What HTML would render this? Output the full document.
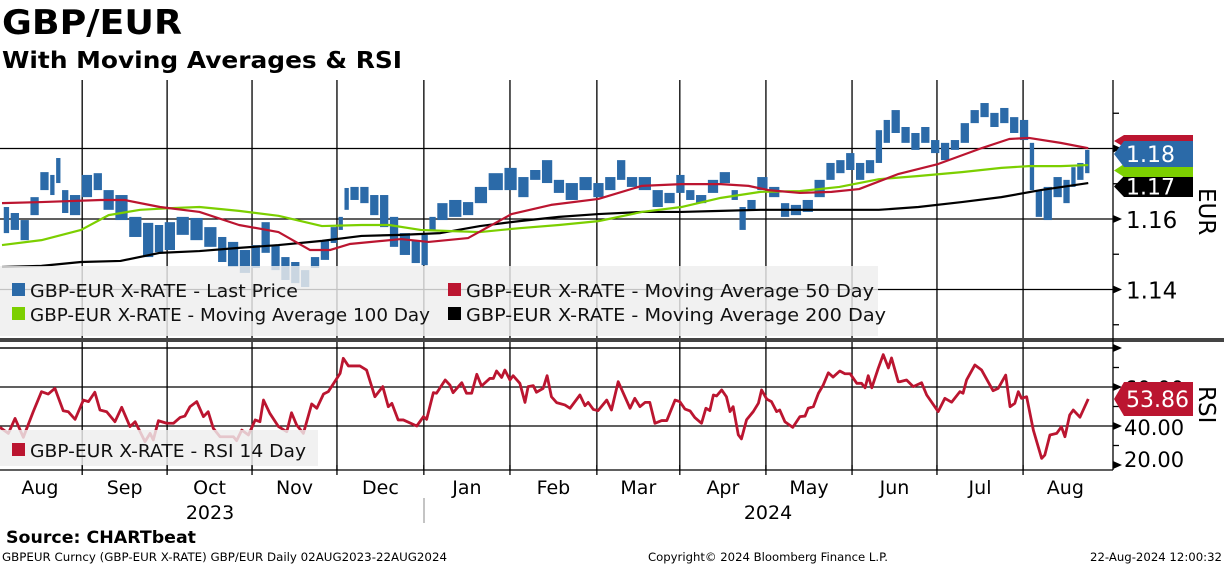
<!DOCTYPE html>
<html><head><meta charset="utf-8">
<style>
html,body{margin:0;padding:0;background:#fff;}
svg{display:block;font-family:"DejaVu Sans","Liberation Sans",sans-serif;}
</style></head>
<body>
<svg id="chart" width="1224" height="566" viewBox="0 0 1224 566">
  <text x="2" y="34" font-size="34" font-weight="bold" textLength="180" lengthAdjust="spacingAndGlyphs">GBP/EUR</text>
  <text x="2" y="68" font-size="23" font-weight="bold" textLength="400" lengthAdjust="spacingAndGlyphs">With Moving Averages &amp; RSI</text>
  <g id="grid"></g>
  <g id="marks"></g>
  <g id="legend"></g>
  <g id="axes"></g>
  <text x="6" y="543" font-size="17" font-weight="bold" textLength="190" lengthAdjust="spacingAndGlyphs">Source: CHARTbeat</text>
  <text x="2" y="561" font-size="11.5" textLength="445" lengthAdjust="spacingAndGlyphs">GBPEUR Curncy (GBP-EUR X-RATE) GBP/EUR  Daily 02AUG2023-22AUG2024</text>
  <text x="648" y="561" font-size="11.5" textLength="240" lengthAdjust="spacingAndGlyphs">Copyright© 2024 Bloomberg Finance L.P.</text>
  <text x="1090" y="561" font-size="11.5" textLength="132" lengthAdjust="spacingAndGlyphs">22-Aug-2024 12:00:32</text>
</svg>
<script>
// ---- data (trading-day index from 02-Aug-2023) ----
const priceDay = [1,3,6,8,11,13,14,16,18,22,24,27,30,34,37,40,42,46,49,53,56,58,62,64,67,69,72,74,77,79,82,84,86,87,89,92,94,97,99,102,105,107,109,111,115,118,121,125,129,132,135,138,141,144,148,151,154,157,159,163,166,169,172,174,177,180,183,186,187,190,192,196,198,201,204,207,210,212,215,217,220,222,224,226,229,231,234,236,239,241,244,246,249,251,254,256,259,261,262,265,267,270,271,273,275];
const priceHigh = [1.1634,1.1617,1.1597,1.1662,1.1733,1.1725,1.1773,1.1682,1.1668,1.1725,1.1730,1.1682,1.1668,1.1606,1.1589,1.1583,1.1591,1.1606,1.1603,1.1577,1.1549,1.1535,1.1512,1.1526,1.1591,1.1526,1.1492,1.1478,1.1455,1.1492,1.1540,1.1577,1.1606,1.1688,1.1691,1.1691,1.1668,1.1668,1.1606,1.1560,1.1540,1.1555,1.1606,1.1645,1.1654,1.1648,1.1691,1.1730,1.1745,1.1719,1.1739,1.1767,1.1711,1.1702,1.1719,1.1702,1.1719,1.1767,1.1719,1.1719,1.1682,1.1674,1.1725,1.1682,1.1668,1.1711,1.1733,1.1682,1.1634,1.1654,1.1719,1.1691,1.1645,1.1640,1.1654,1.1711,1.1759,1.1767,1.1787,1.1759,1.1767,1.1852,1.1881,1.1909,1.1861,1.1844,1.1861,1.1824,1.1816,1.1824,1.1872,1.1909,1.1929,1.1901,1.1915,1.1889,1.1881,1.1816,1.1682,1.1691,1.1719,1.1711,1.1747,1.1759,1.1796];
const priceLow = [1.1560,1.1569,1.1540,1.1611,1.1682,1.1668,1.1702,1.1617,1.1611,1.1662,1.1682,1.1626,1.1597,1.1549,1.1492,1.1506,1.1512,1.1555,1.1540,1.1521,1.1478,1.1464,1.1447,1.1461,1.1504,1.1455,1.1427,1.1418,1.1407,1.1461,1.1484,1.1532,1.1569,1.1626,1.1654,1.1645,1.1611,1.1577,1.1521,1.1498,1.1475,1.1469,1.1569,1.1597,1.1606,1.1611,1.1645,1.1682,1.1682,1.1662,1.1711,1.1702,1.1674,1.1654,1.1682,1.1662,1.1682,1.1711,1.1691,1.1682,1.1634,1.1645,1.1674,1.1654,1.1645,1.1674,1.1702,1.1654,1.1569,1.1626,1.1682,1.1662,1.1606,1.1611,1.1620,1.1662,1.1711,1.1730,1.1739,1.1711,1.1730,1.1759,1.1816,1.1844,1.1816,1.1796,1.1816,1.1787,1.1767,1.1796,1.1816,1.1872,1.1889,1.1861,1.1872,1.1844,1.1824,1.1682,1.1606,1.1597,1.1662,1.1645,1.1691,1.1711,1.1730];

const ma50Day = [0,10,25,31,40,50,60,70,78,83,88,101,108,118,129,139,151,162,172,182,189,194,202,210,217,227,237,248,255,260,268,275];
const ma50 = [1.1645,1.1648,1.1654,1.1654,1.1634,1.1620,1.1583,1.1563,1.1512,1.1512,1.1529,1.1543,1.1535,1.1546,1.1614,1.1640,1.1657,1.1694,1.1699,1.1699,1.1694,1.1682,1.1674,1.1677,1.1685,1.1728,1.1756,1.1801,1.1827,1.1830,1.1816,1.1801];

const ma100Day = [0,10,20,27,35,43,50,60,70,81,91,98,106,113,121,131,141,151,162,172,182,192,202,212,222,232,243,253,260,268,275];
const ma100 = [1.1526,1.1540,1.1569,1.1611,1.1626,1.1631,1.1634,1.1623,1.1609,1.1580,1.1583,1.1583,1.1569,1.1566,1.1563,1.1574,1.1583,1.1594,1.1620,1.1634,1.1660,1.1677,1.1679,1.1691,1.1713,1.1722,1.1733,1.1745,1.1750,1.1750,1.1753];

const ma200Day = [0,10,20,30,40,50,60,70,81,91,101,111,121,131,141,151,162,172,182,192,202,212,222,232,243,253,263,275];
const ma200 = [1.1464,1.1467,1.1478,1.1481,1.1504,1.1509,1.1518,1.1526,1.1538,1.1552,1.1555,1.1560,1.1580,1.1594,1.1606,1.1614,1.1620,1.1620,1.1623,1.1626,1.1626,1.1626,1.1626,1.1634,1.1648,1.1662,1.1682,1.1702];

const rsiDay = [-0.5,1.6,3.3,5.4,7.9,10.0,11.7,13.4,15.5,16.8,18.5,20.6,21.9,23.5,24.8,26.5,28.6,30.3,32.4,33.7,36.2,37.5,38.3,39.6,41.7,43.4,45.1,46.3,47.6,49.3,51.0,52.2,53.5,55.2,58.6,59.4,60.7,62.4,64.1,65.3,66.2,67.8,70.0,72.1,73.3,74.6,76.3,78.4,79.7,81.4,82.6,85.6,86.4,87.7,90.6,92.3,94.4,96.4,97.8,98.7,100.3,101.6,105.0,106.7,107.5,109.2,110.0,112.2,
113.4,114.2,116.4,117.6,118.9,120.2,121.4,123.5,124.4,125.2,126.5,127.3,128.6,129.4,131.1,132.4,133.2,134.5,135.3,137.0,138.0,139.1,140.4,142.5,143.8,146.3,147.6,148.4,149.7,150.9,153.1,154.3,156.0,159.0,160.2,161.5,162.8,164.0,165.3,167.0,168.3,170.4,171.6,172.9,174.2,175.4,177.1,178.2,179.2,180.1,180.9,182.2,183.4,184.3,185.1,186.4,187.2,188.5,190.2,191.5,192.3,193.6,194.8,196.1,196.9,198.2,200.2,202.0,203.3,204.1,205.4,206.7,207.9,209.2,210.4,212.1,213.4,214.7,216.4,217.6,218.5,219.3,220.2,221.8,223.1,224.4,225.2,226.9,
227.3,229.0,230.7,232.8,234.1,237.0,238.7,240.4,242.5,243.3,244.2,246.3,248.0,250.9,252.2,254.1,255.2,256.4,257.3,258.1,259.4,261.1,263.2,264.0,265.3,267.0,268.2,269.1,270.3,271.2,272.9,275.0];
const rsi = [39.3,36.2,43.9,34.2,47.3,57.6,56.4,59.3,47.8,47.3,43.4,53.3,52.5,57.3,48.2,47.3,42.2,49.6,39.7,42.2,32.0,36.2,32.8,42.7,41.4,41.4,44.4,45.1,49.9,52.5,44.8,47.3,38.8,34.5,34.5,32.5,37.9,35.4,43.1,42.2,53.3,46.5,39.7,37.1,46.8,40.5,36.2,51.3,49.1,56.4,57.6,67.0,74.7,70.8,70.8,68.7,55.0,60.2,49.9,51.6,43.1,43.1,40.0,44.8,43.4,57.1,56.8,63.6,
61.0,57.1,62.2,56.8,56.8,66.5,60.5,64.4,64.4,68.2,64.9,68.7,63.6,65.8,61.9,52.1,60.2,60.7,57.3,59.3,65.8,55.0,52.0,50.8,49.1,55.9,50.4,52.1,48.5,47.9,53.3,48.2,62.7,49.1,54.2,49.9,52.1,52.1,41.4,42.8,42.8,53.3,52.5,48.7,47.7,44.3,41.4,49.1,47.9,55.9,55.4,58.5,55.0,47.4,49.9,35.5,33.4,43.2,47.4,51.7,58.5,53.8,52.5,47.4,48.2,42.2,39.3,44.8,45.1,49.1,49.9,56.8,61.0,67.3,65.1,68.2,66.8,66.8,61.9,61.9,59.6,65.8,59.6,69.4,76.6,69.8,74.9,62.7,
62.7,63.6,60.2,62.2,55.9,47.4,54.2,52.2,57.6,56.8,63.6,71.3,68.7,58.1,59.3,66.1,49.9,51.6,57.6,54.2,55.0,37.9,23.4,25.1,35.4,36.2,39.6,34.5,45.6,48.2,44.5,53.86];

const monthDay = [20.3,41.8,63.3,84.8,106.8,128.6,150.6,171.6,193.4,215.2,236.7,258.5];
const monthLabels = ["Aug","Sep","Oct","Nov","Dec","Jan","Feb","Mar","Apr","May","Jun","Jul","Aug"];
const priceTicks = [1.14,1.16,1.18];
const priceTickLabels = ["1.14","1.16",""];
const rsiTicks = [20,40,60];
const rsiTickLabels = ["20.00","40.00","60.00"];

// ---- scales ----
const X = d => 2 + d * 3.95;
const YP = v => 219 - (v - 1.16) * 3525;
const YR = v => 426 - (v - 40) * 1.95;
const NS = "http://www.w3.org/2000/svg";
function mk(tag, attrs, parent){const e=document.createElementNS(NS,tag);for(const k in attrs)e.setAttribute(k,attrs[k]);parent.appendChild(e);return e;}
const grid=document.getElementById('grid'), marks=document.getElementById('marks'), legend=document.getElementById('legend'), axes=document.getElementById('axes');

// grid
monthDay.forEach(d=>{const l=mk('line',{x1:X(d),x2:X(d),y1:80,y2:470,stroke:'#000','stroke-width':1.3},grid);

});
[1.14,1.16,1.18].forEach(v=>{const l=mk('line',{x1:0,x2:1113,y1:YP(v),y2:YP(v),stroke:'#000','stroke-width':1.3},grid);

});
[40,60,80].forEach(v=>{const l=mk('line',{x1:0,x2:1113,y1:YR(v),y2:YR(v),stroke:'#000','stroke-width':1.3},grid);

});

// price bars (each bar spans until the next sample, small white gap)
priceDay.forEach((d,i)=>{
  const y1=YP(priceHigh[i]), y2=YP(priceLow[i]);
  const prev = i>0 ? X(priceDay[i-1]) : X(d)-6;
  const next = i<priceDay.length-1 ? X(priceDay[i+1]) : X(d)+4;
  const left = (prev + X(d))/2 + 0.8, right = (X(d)+next)/2 - 0.8;
  const r=mk('rect',{x:left,y:y1,width:Math.max(2.5,right-left),height:Math.max(2,y2-y1),fill:'#2b6aa8'},marks);
  
  
});
function line(days, vals, ys, color, w, name){
  const p=mk('polyline',{points:days.map((d,i)=>X(d)+','+ys(vals[i])).join(' '),fill:'none',stroke:color,'stroke-width':w,'stroke-linejoin':'round'},marks);
  
  
}
line(ma200Day,ma200,YP,'#000',2.2,'ma200-line');
line(ma100Day,ma100,YP,'#7ccf00',2.2,'ma100-line');
line(ma50Day,ma50,YP,'#bb1530',2.2,'ma50-line');
line(rsiDay,rsi,YR,'#bb1530',2.8,'rsi-line');

// legends
const lb=mk('rect',{x:0,y:266,width:878,height:70,fill:'#eeeeee','fill-opacity':0.82},legend);


const entries=[[12,296,'#2b6aa8','GBP-EUR X-RATE - Last Price',268],[448,296,'#bb1530','GBP-EUR X-RATE - Moving Average 50 Day',408],[12,320,'#7ccf00','GBP-EUR X-RATE - Moving Average 100 Day',400],[448,320,'#000','GBP-EUR X-RATE - Moving Average 200 Day',420]];
const rb=mk('rect',{x:0,y:430,width:318,height:36,fill:'#eeeeee','fill-opacity':0.82},legend);


entries.push([12,456,'#bb1530','GBP-EUR X-RATE - RSI 14 Day',276]);
entries.forEach(e=>{
  const g=mk('g',{},legend);
  
  
  mk('rect',{x:e[0],y:e[1]-13,width:13,height:13,fill:e[2]},g);
  const t=mk('text',{x:e[0]+18,y:e[1]+1,'font-size':18,textLength:e[4],lengthAdjust:'spacingAndGlyphs',fill:'#111'},g);
  t.textContent=e[3];
});

// axes
mk('rect',{x:0,y:338,width:1224,height:4,fill:'#444'},axes);
mk('line',{x1:1113,x2:1113,y1:80,y2:470,stroke:'#000','stroke-width':1.3},axes);
mk('line',{x1:0,x2:1113,y1:470,y2:470,stroke:'#000','stroke-width':1.3},axes);
mk('line',{x1:0,x2:1113,y1:YR(80),y2:YR(80),stroke:'#000','stroke-width':1.3},axes);
[1.13,1.15,1.17,1.19].forEach(v=>mk('line',{x1:1113,x2:1119,y1:YP(v),y2:YP(v),stroke:'#000','stroke-width':1.3},axes));
[30,50,70].forEach(v=>mk('line',{x1:1113,x2:1119,y1:YR(v),y2:YR(v),stroke:'#000','stroke-width':1.3},axes));
function arrow(y){mk('polygon',{points:`1113,${y-4} 1122,${y} 1113,${y+4}`,fill:'#000'},axes);}
priceTicks.forEach((v,i)=>{arrow(YP(v));
  const t=mk('text',{x:1126,y:YP(v)+9,'font-size':23,fill:'#000'},axes);
  
  
  t.textContent=priceTickLabels[i];});
[20,40,60,80].forEach(v=>arrow(YR(v)));
rsiTicks.forEach((v,i)=>{
  const t=mk('text',{x:1124,y:YR(v)+(v===20?2:9),'font-size':21,fill:'#000'},axes);
  
  
  t.textContent=rsiTickLabels[i];});
const eur=mk('text',{x:0,y:0,'font-size':23,transform:'translate(1199,188) rotate(90)'},axes);


eur.textContent='EUR';
const rsiT=mk('text',{x:0,y:0,'font-size':23,transform:'translate(1199,386) rotate(90)'},axes);


rsiT.textContent='RSI';
// value tags
function tag(y,h,color,txt,tc){
  const g=mk('g',{},axes);
  
  
  mk('polygon',{points:`1114,${y+h/2} ${1124},${y} 1193,${y} 1193,${y+h} 1124,${y+h}`,fill:color},g);
  if(txt){const t=mk('text',{x:1126,y:y+h/2+8,'font-size':22,fill:tc},g);t.textContent=txt;}
}
tag(135,12,'#bb1530','', '#fff');
tag(176,21,'#000','1.17','#fff');
tag(164,13,'#7ccf00','','#000');
tag(141,26,'#2b6aa8','1.18','#fff');
tag(YR(rsi[rsi.length-1])-17,34,'#bb1530',rsi[rsi.length-1].toFixed(2),'#fff');
// x labels
monthLabels.forEach((m,i)=>{
  const d = i===0 ? monthDay[0]-10.7 : (i<monthDay.length ? (monthDay[i-1]+monthDay[i])/2 : monthDay[i-1]+10.7);
  const t=mk('text',{x:X(d),y:494,'font-size':19,'text-anchor':'middle',fill:'#000'},axes);
  
  
  t.textContent=m;
});
monthDay.forEach(d=>mk('line',{x1:X(d),x2:X(d),y1:465,y2:475,stroke:'#000','stroke-width':1.3},axes));
mk('line',{x1:424,x2:424,y1:498,y2:523,stroke:'#888','stroke-width':1},axes);
[[210,'2023'],[768,'2024']].forEach(a=>{const t=mk('text',{x:a[0],y:519,'font-size':19,'text-anchor':'middle'},axes);


t.textContent=a[1];});
</script>
</body></html>
